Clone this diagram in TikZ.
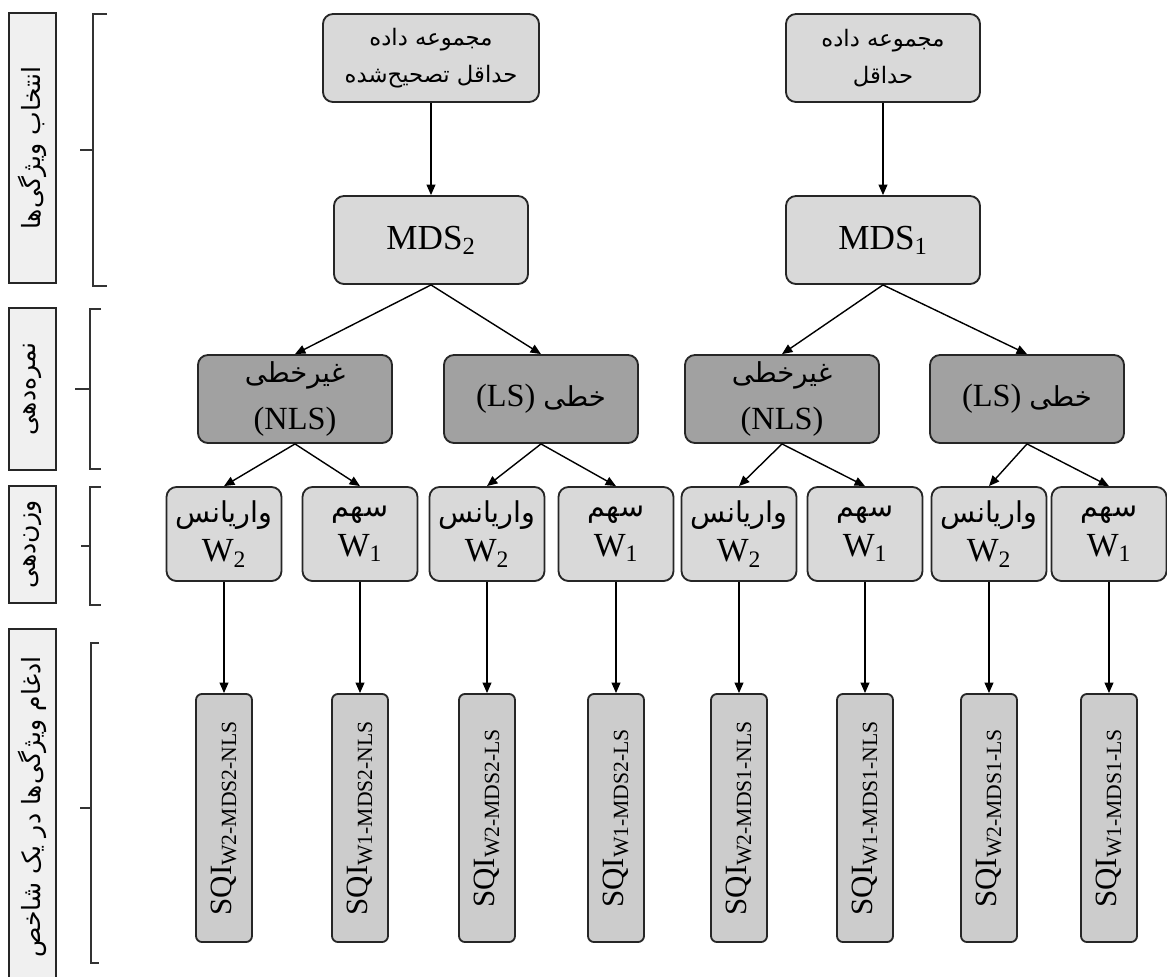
\documentclass[tikz,border=0pt]{standalone}
\usepackage{fontspec}
\setmainfont{Liberation Serif}
\newfontfamily\fafont[Script=Arabic, Scale=0.85]{DejaVu Sans}
\TeXXeTstate=1
\usetikzlibrary{arrows.meta}
\newcommand{\faText}[1]{{\fafont\beginR #1\endR}}

\begin{document}
\begin{tikzpicture} [x = 0.025cm, y = -0.025cm, line width = 1pt,
  box/.style = {draw = black!85, line width = 1.3pt, rounded corners = 2.5mm, fill = black!15, align = center, inner sep = 1pt},
  mainbox/.style = {box, minimum width = 4.85cm, minimum height = 2.2cm},
  scorebox/.style = {mainbox, fill = black!37, font = \fontsize{23}{33}\selectfont},
  weightbox/.style = {box, minimum width = 2.875cm, minimum height = 2.35cm, font = \fontsize{24}{28}\selectfont},
  sqibox/.style = {box, fill = black!20, rounded corners = 1.5mm, rotate = 90, minimum width = 6.2cm, minimum height = 1.4cm, font = \fontsize{22}{24}\selectfont},
  sidebox/.style = {draw = black!85, line width = 1.3pt, fill = black!6, rotate = 90, minimum height = 1.175cm, inner sep = 1pt, font = \fontsize{21}{24}\selectfont},
  link/.style = {-{Triangle[length = 2.6mm, width = 2.2mm]}, line width = 1pt},
  brace/.style = {line width = 1pt, black!80}]

\useasboundingbox (0,0) rectangle (1167,976);

% stages on the left
\node [sidebox, minimum width = 6.75cm] (select) at (32.5,148) {\faText{انتخاب ویژگی‌ها}};
\node [sidebox, minimum width = 4.05cm] (score) at (32.5,389) {\faText{نمره‌دهی}};
\node [sidebox, minimum width = 2.925cm] (weight) at (32.5,544.5) {\faText{وزن‌دهی}};
\node [sidebox, minimum width = 8.9cm] (merge) at (32.5,807) {\faText{ادغام ویژگی‌ها در یک شاخص}};

\draw [brace] (107,14) -- (93,14) -- (93,286) -- (107,286) (93,150) -- (80,150);
\draw [brace] (101,309) -- (90,309) -- (90,469) -- (101,469) (90,389) -- (75,389);
\draw [brace] (101,487) -- (90,487) -- (90,605) -- (101,605) (90,546) -- (81,546);
\draw [brace] (99,643) -- (91,643) -- (91,963) -- (99,963) (91,808) -- (80,808);

% data sets
\node [mainbox, minimum width = 5.4cm, font = \fontsize{19}{26}\selectfont] (data2) at (431,58) {\faText{مجموعه داده}\\\faText{حداقل تصحیح‌شده}};
\node [mainbox, font = \fontsize{19}{26}\selectfont] (data1) at (883,58) {\faText{مجموعه داده}\\\faText{حداقل}};

\node [mainbox, font = \fontsize{25}{30}\selectfont] (mds2) at (431,240) {MDS\textsubscript{2}};
\node [mainbox, font = \fontsize{25}{30}\selectfont] (mds1) at (883,240) {MDS\textsubscript{1}};

\draw [link] (data2) -- (mds2);
\draw [link] (data1) -- (mds1);

% scoring
\node [scorebox] (nls2) at (295,399) {\faText{غیرخطی}\\(NLS)};
\node [scorebox] (ls2) at (541,399) {(LS) \faText{خطی}};
\node [scorebox] (nls1) at (782,399) {\faText{غیرخطی}\\(NLS)};
\node [scorebox] (ls1) at (1027,399) {(LS) \faText{خطی}};

\draw [link] (mds2.south) -- (nls2.north);
\draw [link] (mds2.south) -- (ls2.north);
\draw [link] (mds1.south) -- (nls1.north);
\draw [link] (mds1.south) -- (ls1.north);

% weighting
\node [weightbox] (w2nls2) at (224,534) {\faText{واریانس}\\W\textsubscript{2}};
\node [weightbox] (w1nls2) at (360,534) {\faText{سهم}\\W\textsubscript{1}};
\node [weightbox] (w2ls2) at (487,534) {\faText{واریانس}\\W\textsubscript{2}};
\node [weightbox] (w1ls2) at (616,534) {\faText{سهم}\\W\textsubscript{1}};
\node [weightbox] (w2nls1) at (739,534) {\faText{واریانس}\\W\textsubscript{2}};
\node [weightbox] (w1nls1) at (865,534) {\faText{سهم}\\W\textsubscript{1}};
\node [weightbox] (w2ls1) at (989,534) {\faText{واریانس}\\W\textsubscript{2}};
\node [weightbox] (w1ls1) at (1109,534) {\faText{سهم}\\W\textsubscript{1}};

\draw [link] (nls2.south) -- (w2nls2.north);
\draw [link] (nls2.south) -- (w1nls2.north);
\draw [link] (ls2.south) -- (w2ls2.north);
\draw [link] (ls2.south) -- (w1ls2.north);
\draw [link] (nls1.south) -- (w2nls1.north);
\draw [link] (nls1.south) -- (w1nls1.north);
\draw [link] (ls1.south) -- (w2ls1.north);
\draw [link] (ls1.south) -- (w1ls1.north);

% indices
\node [sqibox] (sqi1) at (224,818) {SQI\textsubscript{W2-MDS2-NLS}};
\node [sqibox] (sqi2) at (360,818) {SQI\textsubscript{W1-MDS2-NLS}};
\node [sqibox] (sqi3) at (487,818) {SQI\textsubscript{W2-MDS2-LS}};
\node [sqibox] (sqi4) at (616,818) {SQI\textsubscript{W1-MDS2-LS}};
\node [sqibox] (sqi5) at (739,818) {SQI\textsubscript{W2-MDS1-NLS}};
\node [sqibox] (sqi6) at (865,818) {SQI\textsubscript{W1-MDS1-NLS}};
\node [sqibox] (sqi7) at (989,818) {SQI\textsubscript{W2-MDS1-LS}};
\node [sqibox] (sqi8) at (1109,818) {SQI\textsubscript{W1-MDS1-LS}};

\draw [link] (w2nls2) -- (sqi1);
\draw [link] (w1nls2) -- (sqi2);
\draw [link] (w2ls2) -- (sqi3);
\draw [link] (w1ls2) -- (sqi4);
\draw [link] (w2nls1) -- (sqi5);
\draw [link] (w1nls1) -- (sqi6);
\draw [link] (w2ls1) -- (sqi7);
\draw [link] (w1ls1) -- (sqi8);

\end{tikzpicture}
\end{document}
